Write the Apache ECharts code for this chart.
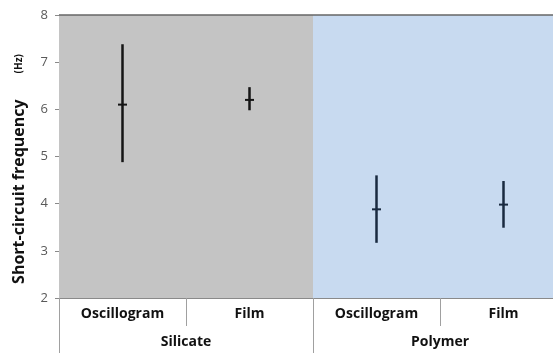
<!DOCTYPE html>
<html>
<head>
<meta charset="utf-8">
<script src="https://cdn.jsdelivr.net/npm/echarts@6/dist/echarts.min.js"></script>
<style>
html,body{margin:0;padding:0;background:#fff;overflow:hidden;}
#chart{width:567px;height:353px;}
</style>
</head>
<body>
<div id="chart"></div>
<script>
// Measurement categories and their material groups
const categories = ['Oscillogram', 'Film', 'Oscillogram', 'Film'];
const groups = ['Silicate', 'Polymer'];
// Short-circuit frequency (Hz): mean with lower/upper range
const means = [6.1, 6.2, 3.88, 3.98];
const lows = [4.88, 5.98, 3.17, 3.49];
const highs = [7.38, 6.47, 4.6, 4.48];
const barColors = ['#151515', '#151515', '#1a2a40', '#1a2a40'];
const yTicks = { min: 2, max: 8, step: 1 };

const rangeData = categories.map((c, i) => [i, lows[i], highs[i], means[i]]);

const chart = echarts.init(document.getElementById('chart'), null, { renderer: 'canvas' });
const font = '"Open Sans", Lato, sans-serif';

chart.setOption({
  animation: false,
  backgroundColor: '#fff',
  grid: { left: 59, top: 15, right: 0, height: 283, containLabel: false },
  xAxis: [
    {
      type: 'category',
      data: categories,
      position: 'bottom',
      axisLine: { show: true, lineStyle: { color: '#8a8a8a', width: 1 } },
      axisTick: { show: true, length: 28, lineStyle: { color: '#a0a0a0' } },
      axisLabel: { margin: 9, fontFamily: font, fontWeight: 'bold', fontSize: 14, color: '#111' },
      splitLine: { show: false }
    },
    {
      type: 'category',
      data: groups,
      position: 'bottom',
      axisLine: { show: false },
      axisTick: { show: true, length: 55, lineStyle: { color: '#a0a0a0' } },
      axisLabel: { margin: 37, fontFamily: font, fontWeight: 'bold', fontSize: 14, color: '#111' },
      splitArea: { show: true, areaStyle: { color: ['#c4c4c4', '#c8daf0'] } },
      splitLine: { show: false }
    }
  ],
  yAxis: {
    type: 'value',
    min: yTicks.min,
    max: yTicks.max,
    interval: yTicks.step,
    axisLine: { show: false },
    axisTick: { show: true, length: 4, lineStyle: { color: '#8a8a8a' } },
    axisLabel: { margin: 11, fontFamily: font, fontSize: 13, color: '#595959' },
    splitLine: { show: true, lineStyle: { color: '#8c8c8c', width: 1 } },
    name: '{a|Short-circuit frequency}{b|(Hz)}',
    nameLocation: 'middle',
    nameRotate: 90,
    nameGap: 32,
    nameTextStyle: {
      padding: [0, 25, 0, 0],
      rich: {
        a: { fontFamily: font, fontWeight: 'bold', fontSize: 16, color: '#111' },
        b: { fontFamily: font, fontWeight: 'bold', fontSize: 10, color: '#111', padding: [0, 0, 0, 26] }
      }
    }
  },
  series: [
    {
      type: 'custom',
      xAxisIndex: 0,
      yAxisIndex: 0,
      data: rangeData,
      renderItem: function (params, api) {
        const idx = api.value(0);
        const top = api.coord([idx, api.value(2)]);
        const bot = api.coord([idx, api.value(1)]);
        const mid = api.coord([idx, api.value(3)]);
        const color = barColors[params.dataIndex];
        return {
          type: 'group',
          children: [
            { type: 'line', shape: { x1: top[0], y1: top[1], x2: bot[0], y2: bot[1] },
              style: { stroke: color, lineWidth: 2.5 } },
            { type: 'line', shape: { x1: mid[0] - 4.5, y1: mid[1], x2: mid[0] + 4.5, y2: mid[1] },
              style: { stroke: color, lineWidth: 2 } }
          ]
        };
      },
      markLine: {
        silent: true,
        symbol: 'none',
        label: { show: false },
        lineStyle: { color: '#666', width: 1.5, type: 'solid' },
        data: [{ yAxis: yTicks.max }]
      }
    }
  ]
});
</script>
</body>
</html>
